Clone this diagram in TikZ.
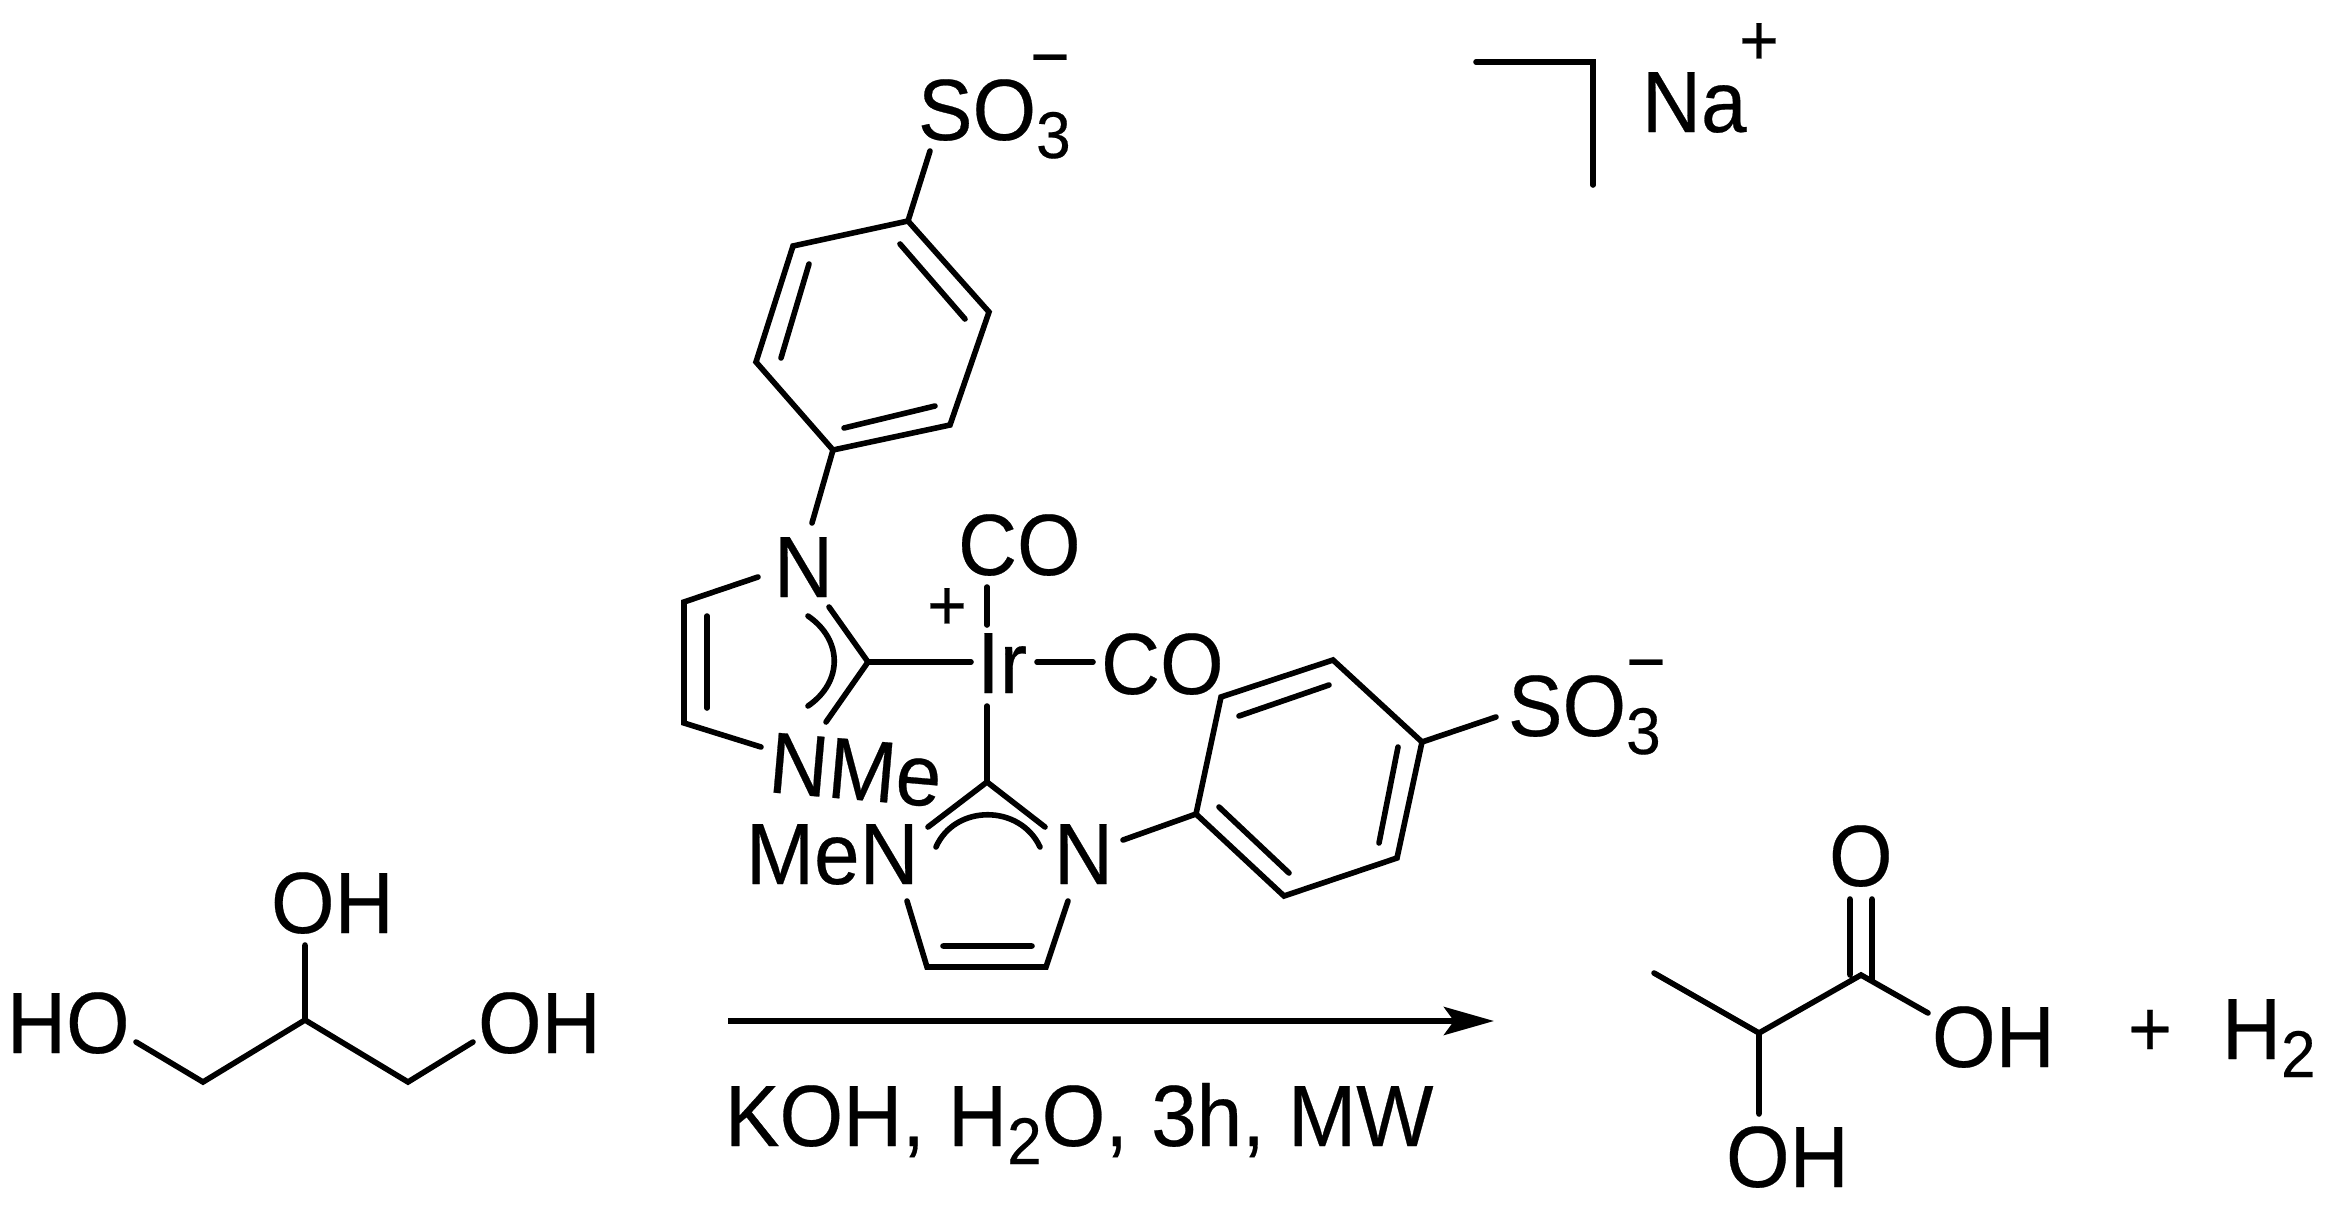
\documentclass[tikz,border=0pt]{standalone}
\usepackage{fontspec}
\setmainfont[FakeStretch=0.94,FakeBold=0.3]{Liberation Sans}
\usetikzlibrary{arrows.meta}
\newcommand{\chemsub}[1]{\raisebox{-18pt}{\fontsize{66}{66}\selectfont #1}}
\tikzset{
  atom/.style={inner sep=0pt,outer sep=0pt,anchor=base west,font=\fontsize{87}{87}\selectfont},
  chg/.style={inner sep=0pt,outer sep=0pt,anchor=center,font=\fontsize{72}{72}\selectfont},
  bond/.style={line width=5.6pt,line cap=round,line join=miter},
  rxn/.style={line width=6pt,-{Stealth[length=50pt,width=28pt,inset=10pt]}}
}
\begin{document}
\begin{tikzpicture}[x=1pt,y=-1pt]
\useasboundingbox (0,0) rectangle (2330,1207);
% ---- top phenyl
\coordinate (s1) at (930,151); \coordinate (g1) at (908,221);
\coordinate (g2) at (793,246); \coordinate (g3) at (756,362);
\coordinate (g4) at (833,450); \coordinate (g5) at (950,425);
\coordinate (g6) at (989,312);
\coordinate (i1a) at (900,244); \coordinate (i1b) at (965,319);
\coordinate (i2a) at (809,264); \coordinate (i2b) at (781,358);
\coordinate (i3a) at (844,428); \coordinate (i3b) at (935,406);
\coordinate (n1t) at (812,523);
\draw[bond] (g1) -- (g2) -- (g3) -- (g4) -- (g5) -- (g6) -- cycle;
\draw[bond] (s1) -- (g1) (i1a) -- (i1b) (i2a) -- (i2b) (i3a) -- (i3b) (g4) -- (n1t);
\node[atom] (so3a) at (918,140) {SO\chemsub{3}};
\node[chg] (so3am) at (1050,68) {−};
% ---- Na part
\coordinate (m1) at (1476,62); \coordinate (m2) at (1593,62); \coordinate (m3) at (1593,185);
\draw[bond] (m1) -- (m2) -- (m3);
\node[atom] (na) at (1642,132) {Na};
\node[chg] (nap) at (1759,44) {+};
% ---- left imidazole
\coordinate (a1) at (758,577); \coordinate (a2) at (684,602);
\coordinate (a3) at (684,723); \coordinate (a4) at (761,747);
\coordinate (c2) at (868,662); \coordinate (a5) at (829,607);
\coordinate (a6) at (826,722);
\coordinate (a7) at (707,616); \coordinate (a8) at (707,708);
\coordinate (a9) at (808,616); \coordinate (a10) at (808,706);
\draw[bond] (a1) -- (a2) -- (a3) -- (a4);
\draw[bond] (a5) -- (c2) -- (a6);
\draw[bond] (a7) -- (a8);
\draw[bond] (a9) .. controls (843,640) and (843,682) .. (a10);
\node[atom] (n1) at (774,597) {N};
\node[atom,rotate=-5] (nme) at (767,792) {NMe};
% ---- Ir centre
\node[atom] (ir) at (977,693) {Ir};
\coordinate (ir1) at (971,662);
\coordinate (ir2) at (987,587); \coordinate (ir3) at (987,625);
\coordinate (ir4) at (1037,662); \coordinate (ir5) at (1093,662);
\coordinate (ir6) at (987,706); \coordinate (c3) at (987,782);
\draw[bond] (c2) -- (ir1) (ir2) -- (ir3) (ir4) -- (ir5) (ir6) -- (c3);
\node[atom] (co1) at (958,575) {CO};
\node[atom] (co2) at (1101,694) {CO};
\node[chg] (irp) at (947,609) {+};
% ---- lower imidazole
\coordinate (b1) at (928,827); \coordinate (b2) at (1045,827);
\coordinate (b3) at (936,847); \coordinate (b4) at (1040,847);
\coordinate (b5) at (907,901); \coordinate (b6) at (927,967);
\coordinate (b7) at (1046,967); \coordinate (b8) at (1068,901);
\coordinate (b9) at (943,946); \coordinate (b10) at (1032,946);
\draw[bond] (b1) -- (c3) -- (b2);
\draw[bond] (b3) .. controls (955,804) and (1020,804) .. (b4);
\draw[bond] (b5) -- (b6) -- (b7) -- (b8) (b9) -- (b10);
\node[atom] (men) at (746,884) {MeN};
\node[atom] (n2) at (1054,884) {N};
% ---- right phenyl
\coordinate (h0) at (1123,840); \coordinate (h1) at (1196,814);
\coordinate (h2) at (1221,697); \coordinate (h3) at (1333,660);
\coordinate (h4) at (1422,742); \coordinate (h5) at (1397,858);
\coordinate (h6) at (1284,896);
\coordinate (j1) at (1239,716); \coordinate (j2) at (1329,685);
\coordinate (j3) at (1398,747); \coordinate (j4) at (1379,843);
\coordinate (j5) at (1219,807); \coordinate (j6) at (1289,873);
\coordinate (h7) at (1496,717);
\draw[bond] (h1) -- (h2) -- (h3) -- (h4) -- (h5) -- (h6) -- cycle;
\draw[bond] (h0) -- (h1) (j1) -- (j2) (j3) -- (j4) (j5) -- (j6) (h4) -- (h7);
\node[atom] (so3b) at (1508,736) {SO\chemsub{3}};
\node[chg] (so3bm) at (1646,673) {−};
% ---- glycerol
\coordinate (k1) at (136,1042); \coordinate (k2) at (203,1082);
\coordinate (k3) at (305,1020); \coordinate (k4) at (305,945);
\coordinate (k5) at (408,1082); \coordinate (k6) at (473,1042);
\draw[bond] (k1) -- (k2) -- (k3) -- (k5) -- (k6) (k3) -- (k4);
\node[atom] (ho1) at (7,1053) {HO};
\node[atom] (oh1) at (271,933) {OH};
\node[atom] (oh2) at (478,1053) {OH};
% ---- arrow
\coordinate (r1) at (728,1021); \coordinate (r2) at (1494,1021);
\draw[rxn] (r1) -- (r2);
\node[atom] (cond) at (725,1146) {KOH,\hspace{0.5pt} H\chemsub{2}O,\hspace{0.5pt} 3h,\hspace{0.5pt} MW};
% ---- lactic acid
\coordinate (l1) at (1654,973); \coordinate (l2) at (1759,1033);
\coordinate (l3) at (1861,975); \coordinate (l4) at (1928,1013);
\coordinate (l5) at (1759,1114);
\coordinate (l6) at (1850,899); \coordinate (l7) at (1850,975);
\coordinate (l8) at (1872,899); \coordinate (l9) at (1872,980);
\draw[bond] (l1) -- (l2) -- (l3) -- (l4) (l2) -- (l5) (l6) -- (l7) (l8) -- (l9);
\node[atom] (o) at (1829,886) {O};
\node[atom] (oh3) at (1932,1067) {OH};
\node[atom] (oh4) at (1726,1187) {OH};
\node[chg,font=\fontsize{80}{80}\selectfont] (pl) at (2150,1033) {+};
\node[atom] (h2m) at (2222,1059) {H\chemsub{2}};
\end{tikzpicture}
\end{document}
